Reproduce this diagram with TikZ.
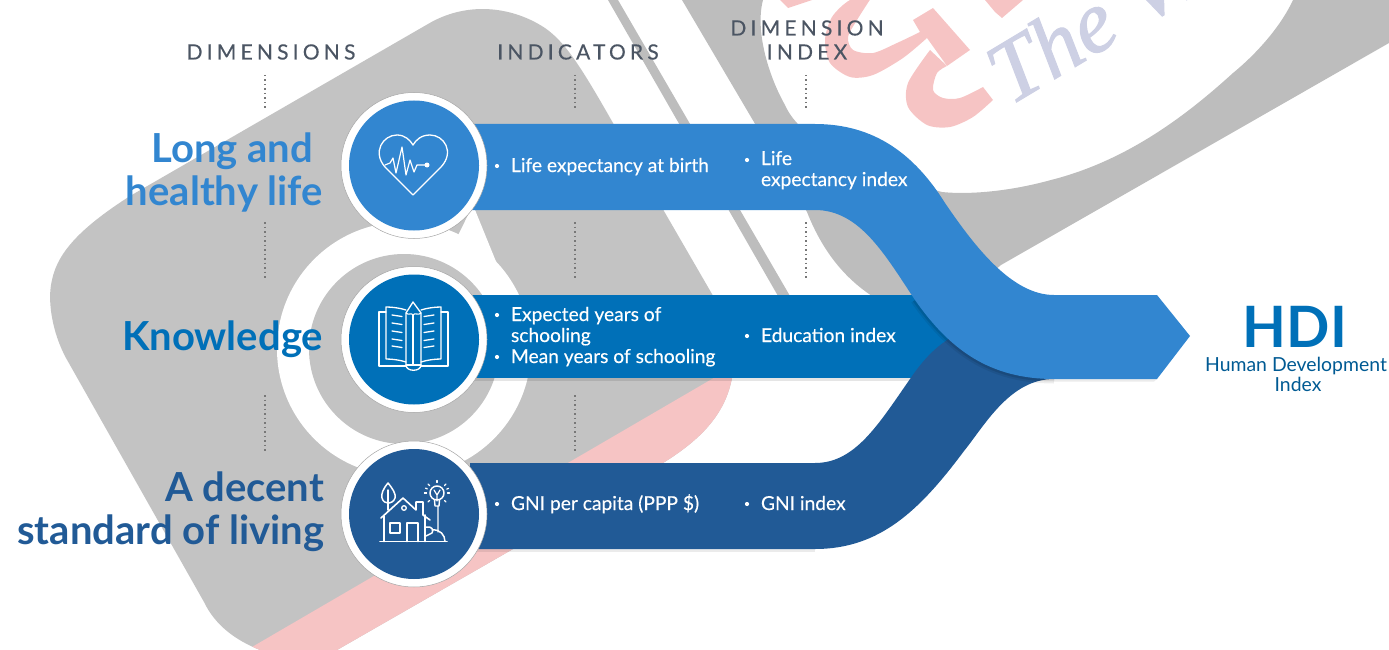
\documentclass[tikz,border=0pt]{standalone}
\usepackage{fontspec}
\usetikzlibrary{calc}
\setmainfont{Lato}
\newfontfamily\wmfont{Liberation Serif}
\definecolor{bandA}{HTML}{3286D0}
\definecolor{bandB}{HTML}{0070B8}
\definecolor{bandC}{HTML}{215A96}
\definecolor{grayA}{HTML}{C3C3C3}
\definecolor{grayB}{HTML}{BDBDBD}
\definecolor{wmpink}{HTML}{F6C4C4}
\definecolor{wmblue}{HTML}{CDD0E4}
\definecolor{capgray}{HTML}{4B5563}
\definecolor{dotgray}{HTML}{777777}
\newcommand{\ShapeAPath}{(428,24) .. controls (465,2) and (510,5) .. (545,28) .. controls (565,42) and (580,65) .. (613,123) -- (712,294) .. controls (728,322) and (738,360) .. (732,378) .. controls (725,415) and (700,440) .. (663,463) -- (337,650) -- (260,650) .. controls (235,640) and (215,625) .. (204,602) -- (66,358) .. controls (52,332) and (47,300) .. (52,280) .. controls (58,250) and (85,225) .. (130,196) -- cycle}
\tikzset{
 x=1pt,y=-1pt,
 base/.style={inner sep=0pt,outer sep=0pt},
 captext/.style={base,text=capgray,anchor=base,font=\fontsize{21}{24}\selectfont\addfontfeature{LetterSpace=20,FakeBold=0.25}},
 headtext/.style={base,anchor=base east,font=\fontsize{40}{44}\selectfont\bfseries},
 bandtext/.style={base,anchor=base west,text=white,font=\fontsize{19.2}{22}\selectfont\addfontfeature{FakeBold=0.25}},
 bullet/.style={circle,fill=white,inner sep=0pt,minimum size=4.2pt},
 ring/.style={circle,draw=black!35,line width=0.5pt,fill=white,minimum size=146pt,inner sep=0pt},
 core/.style={circle,minimum size=130pt,inner sep=0pt},
 icon/.style={draw=white,line width=1.4pt,line join=round,line cap=round},
 dotline/.style={draw=dotgray,line width=1.2pt,dash pattern=on 1.5pt off 3pt},
}
\begin{document}
\begin{tikzpicture}
\useasboundingbox (0,0) rectangle (1389,650);
\clip (0,0) rectangle (1389,650);
% background watermark
\fill[grayA] \ShapeAPath;
\begin{scope}
 \clip (240,654) -- (760,351) -- (760,700) -- (240,700) -- cycle;
 \fill[wmpink] \ShapeAPath;
\end{scope}
\fill[white] (404,349) circle[radius=127pt];
\fill[white] (473,205) -- (530,345) -- (404,345) -- cycle;
\fill[grayA] (404,349) circle[radius=95pt];
% stripes
\fill[grayB] (608,0) -- (618,0) -- (790,296) -- (778,296) -- cycle;
\fill[grayB] (682,0) -- (807,212) .. controls (820,245) and (840,275) .. (872,296) -- (960,300) -- (1001,265) -- (1389,43) -- (1389,0) -- (1293,0) .. controls (1280,28) and (1255,55) .. (1233,73) .. controls (1190,112) and (1130,160) .. (1051,180) .. controls (1000,194) and (960,194) .. (942,192) .. controls (860,170) and (800,140) .. (785,105) .. controls (768,75) and (755,30) .. (763,0) -- cycle;
% watermark glyphs
\fill[wmpink] (780,0) -- (812,0) -- (788,8) -- cycle;
\fill[wmpink] (985,0) -- (1023,0) -- (1002,18) -- (995,12) -- cycle;
\fill[wmpink] plot[smooth] coordinates {(873,-5) (850,0) (832,17) (825,40) (830,63) (850,77) (873,75) (903,58) (927,38)} -- (947,66) -- (970,50) -- (933,8) -- (913,20) -- (920,32) -- plot[smooth] coordinates {(920,32) (897,43) (873,53) (853,50) (848,37) (857,20) (873,-5)} -- cycle;
\fill[wmpink] plot[smooth] coordinates {(930,50) (908,83) (908,107) (927,125) (950,127) (973,117) (993,100)} -- (983,87) -- plot[smooth] coordinates {(983,87) (960,98) (943,98) (933,90) (937,73) (947,66)} -- cycle;
\node[base,anchor=base west,rotate=31,text=wmblue,font=\wmfont\itshape\fontsize{88}{90}\selectfont\addfontfeature{FakeBold=1.2}] (wmtext) at (1010,106) {The Vi};
% dotted guides
\coordinate (a1) at (265,75); \coordinate (a2) at (265,108);
\coordinate (a3) at (265,222); \coordinate (a4) at (265,280);
\coordinate (a5) at (265,395); \coordinate (a6) at (265,452);
\coordinate (b1) at (575,75); \coordinate (b2) at (575,108);
\coordinate (b3) at (575,222); \coordinate (b4) at (575,280);
\coordinate (b5) at (575,395); \coordinate (b6) at (575,452);
\coordinate (c1) at (806,75); \coordinate (c2) at (806,108);
\coordinate (c3) at (806,222); \coordinate (c4) at (806,280);
\draw[dotline] (a1)--(a2); \draw[dotline] (a3)--(a4); \draw[dotline] (a5)--(a6);
\draw[dotline] (b1)--(b2); \draw[dotline] (b3)--(b4); \draw[dotline] (b5)--(b6);
\draw[dotline] (c1)--(c2); \draw[dotline] (c3)--(c4);
% captions
\node[captext] (capdim) at (271,59.5) {DIMENSIONS};
\node[captext] (capind) at (578,59.5) {INDICATORS};
\node[captext] (capdi1) at (807,35.5) {DIMENSION};
\node[captext] (capdi2) at (807,59.5) {INDEX};
% soft shadows under bars
\fill[black,opacity=.10] (470,378) rectangle (960,380.5);
\fill[black,opacity=.08] (470,549) -- (815,549) -- (815,551.5) -- (470,551.5) -- cycle;
\fill[black,opacity=.08] (1054,379) -- (1157,379) -- (1154,381.5) -- (1054,381.5) -- cycle;
% bands
\fill[bandB] (470,295) rectangle (965,378);
\fill[bandC] (470,463) -- (815,463) .. controls (855,463) and (878,425) .. (910,379) .. controls (930,350) and (950,330) .. (1000,320) -- (1054,340) -- (1054,379) .. controls (1010,379) and (985,425) .. (964,451) .. controls (920,510) and (880,549) .. (815,549) -- (470,549) -- cycle;
\begin{scope}
 \clip (880,296) rectangle (1060,400);
 \draw[black,opacity=.07,line width=9pt] (915,300) .. controls (950,350) and (990,379) .. (1054,379);
 \draw[black,opacity=.10,line width=5pt] (915,300) .. controls (950,350) and (990,379) .. (1054,379);
\end{scope}
\fill[bandA] (470,124) -- (815,124) .. controls (875,124) and (915,155) .. (945,203) .. controls (975,247) and (1012,295) .. (1054,295) -- (1157,295) -- (1190,336) -- (1157,379) -- (1054,379) .. controls (990,379) and (950,350) .. (915,300) .. controls (885,255) and (860,210) .. (815,210) -- (470,210) -- cycle;
% circles
\node[ring] (r1) at (414,165.5) {};
\node[ring] (r2) at (414,339.5) {};
\node[ring] (r3) at (414,514) {};
\node[core,fill=bandA] (n1) at (414,165.5) {};
\node[core,fill=bandB] (n2) at (414,339.5) {};
\node[core,fill=bandC] (n3) at (414,514) {};
% heart icon
\draw[icon,line width=1.3pt] (413,195) -- (385,167) .. controls (372,152) and (383,135) .. (397,135) .. controls (405,135) and (410,140) .. (413,145) .. controls (416,140) and (421,135) .. (430,135) .. controls (444,135) and (455,152) .. (441,167) -- cycle;
\draw[icon,line width=1.2pt] (385,165) -- (390,163) -- (393,158) -- (396,173) -- (402,147) -- (406,175) -- (410,160) -- (414,172) -- (417,165) -- (427,165);
\fill[white] (427,165) circle[radius=2.5pt];
% book icon
\draw[icon,line width=1.3pt] (386,312) -- (379,312) -- (379,366) -- (406,366);
\draw[icon,line width=1.3pt] (441,312) -- (448,312) -- (448,366) -- (421,366);
\draw[icon,line width=1.3pt] (406,310) .. controls (400,308) and (392,307) .. (386,307) -- (386,359) .. controls (392,359) and (400,360) .. (406,362);
\draw[icon,line width=1.3pt] (421,310) .. controls (427,308) and (435,307) .. (441,307) -- (441,359) .. controls (435,359) and (427,360) .. (421,362);
\draw[icon,line width=1.3pt] (406,365) -- (406,313) -- (413,302) -- (421,313) -- (421,365) .. controls (421,372) and (406,372) .. (406,365) -- cycle;
\draw[icon,line width=1.1pt] (406,313) .. controls (409,316) and (411,312) .. (413,315) .. controls (415,312) and (418,316) .. (421,313);
\draw[icon,line width=1.1pt] (413,315) -- (413,365) (406,365) -- (421,365);
\foreach \yy in {315,323,331,339,346} {
 \draw[icon,line width=1.3pt] (392,\yy) -- (402,\yy+1.5);
 \draw[icon,line width=1.3pt] (434,\yy) -- (424,\yy+1.5);
}
% house icon
\draw[icon,line width=1.6pt] (380,541.5) -- (447,541.5);
\draw[icon,line width=1.6pt] (381,518) -- (403,498) -- (416,510) -- (416,502) -- (423,502) -- (423,515) -- (430,520);
\draw[icon,line width=1.6pt] (384,516) -- (384,541.5) (425,515) -- (425,541.5);
\draw[icon,line width=1.6pt] (390,523) rectangle (400,533);
\draw[icon,line width=1.6pt] (407,541.5) -- (407,523) -- (418,523) -- (418,541.5);
\draw[icon,line width=1.3pt] (404,508) circle[radius=2.3pt];
\draw[icon,line width=1.5pt] (388,483) .. controls (383,489) and (381,494) .. (382,498) .. controls (383,502) and (386,503) .. (388,503) .. controls (390,503) and (394,502) .. (395,498) .. controls (396,494) and (393,489) .. (388,483) -- cycle;
\draw[icon,line width=1.5pt] (388,490) -- (388,510);
\draw[icon,line width=1.5pt] (426,527) .. controls (432,526) and (434,530) .. (432,533) -- (426,536) (432,530) .. controls (440,529) and (445,535) .. (445,541.5);
\draw[icon,line width=1.5pt] (437,493) circle[radius=7pt];
\draw[icon,line width=1.2pt] (434,490) -- (437,495) -- (440,490) (437,495) -- (437,501);
\draw[icon,line width=1.4pt] (434.5,500) -- (435,506) -- (439,506) -- (439.5,500) (438,506) -- (438,532);
\foreach \aa in {-180,-135,-90,-45,0,45,135,180,-157,-22} {
 \draw[icon,line width=1.2pt] ($(437,493)+(\aa:10.5)$) -- ($(437,493)+(\aa:12.5)$);
}
% band text
\node[bullet] (p1) at (497,166) {};
\node[bandtext] (t1) at (511,172) {Life expectancy at birth};
\node[bullet] (p2) at (747,160) {};
\node[bandtext] (t2) at (761,165) {Life};
\node[bandtext] (t3) at (761,186) {expectancy index};
\node[bullet] (p3) at (497,315) {};
\node[bandtext] (t4) at (511,321) {Expected years of};
\node[bandtext] (t5) at (511,342) {schooling};
\node[bullet] (p4) at (497,357) {};
\node[bandtext] (t6) at (511,363) {Mean years of schooling};
\node[bullet] (p5) at (747,336) {};
\node[bandtext] (t7) at (761,342) {Education index};
\node[bullet] (p6) at (497,504) {};
\node[bandtext] (t8) at (511,510) {GNI per capita (PPP \$)};
\node[bullet] (p7) at (747,504) {};
\node[bandtext] (t9) at (761,510) {GNI index};
% headings
\node[headtext,text=bandA] (h1) at (313,162) {Long and};
\node[headtext,text=bandA] (h2) at (323,205) {healthy life};
\node[headtext,text=bandB] (h3) at (323,350) {Knowledge};
\node[headtext,text=bandC] (h4) at (324,501) {A decent};
\node[headtext,text=bandC] (h5) at (324,544) {standard of living};
% HDI
\node[base,anchor=base,text=bandB,font=\fontsize{57}{60}\selectfont\bfseries] (hdi) at (1295,347) {HDI};
\node[base,anchor=base,text=bandB!80!black,font=\fontsize{19.4}{22}\selectfont] (hd1) at (1296,371) {Human Development};
\node[base,anchor=base,text=bandB!80!black,font=\fontsize{19.4}{22}\selectfont] (hd2) at (1298,391) {Index};
\end{tikzpicture}
\end{document}
